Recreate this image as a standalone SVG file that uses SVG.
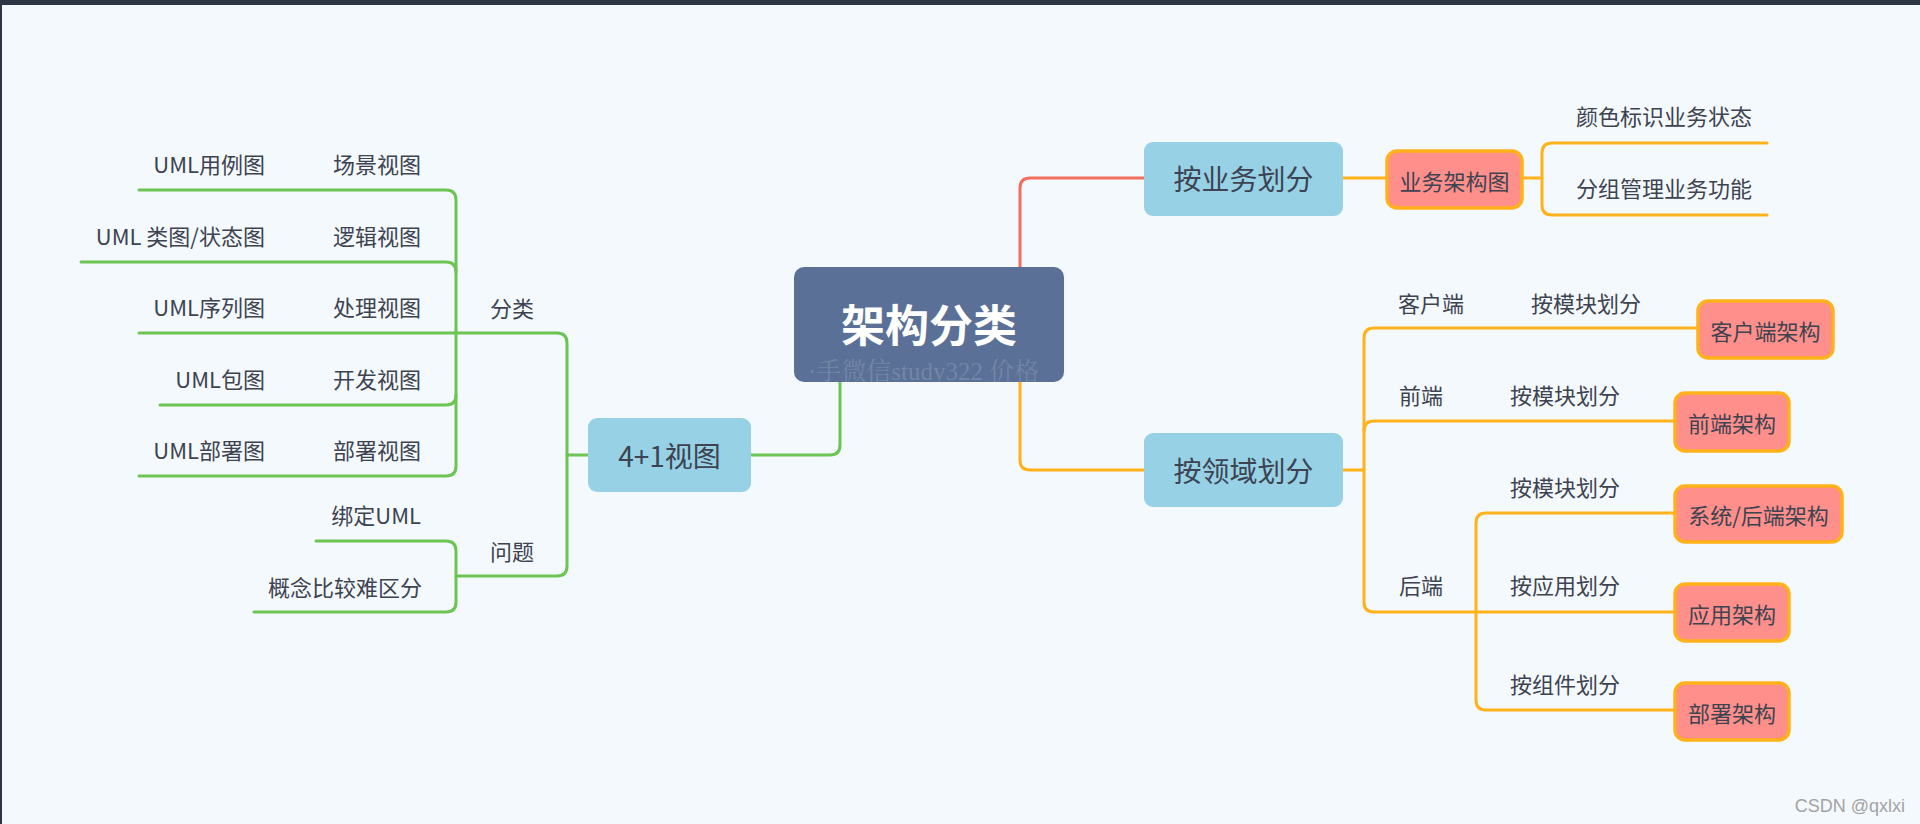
<svg xmlns="http://www.w3.org/2000/svg" width="1920" height="824" viewBox="0 0 1920 824">
<defs>
<style>
.t{font-family:"Noto Sans CJK SC","Noto Sans",sans-serif;font-size:22px;fill:#3d4350;dominant-baseline:central}
.e{text-anchor:end}
.m{text-anchor:middle}
.big{font-size:28px}
.g{fill:none;stroke:#6cc452;stroke-width:3;stroke-linecap:round;stroke-linejoin:round}
.o{fill:none;stroke:#ffb21a;stroke-width:3;stroke-linecap:round;stroke-linejoin:round}
.r{fill:none;stroke:#f26e5e;stroke-width:3;stroke-linecap:round}
.blue{fill:#97d1e6}
.pink{fill:#ff8f8b;stroke:#ffb21a;stroke-width:3.5}
</style>
</defs>
<rect x="0" y="0" width="1920" height="824" fill="#f4f9fd"/>
<rect x="0" y="0" width="1920" height="5" fill="#2c3645"/>
<rect x="0" y="0" width="2" height="824" fill="#2c3645"/>

<g id="connectors">
<path class="g" d="M139,190 H446 Q456,190 456,200 V466 Q456,476 446,476 H139"/>
<path class="g" d="M81,262 H446 Q456,262 456,272"/>
<path class="g" d="M160,405 H446 Q456,405 456,395"/>
<path class="g" d="M139,333 H557 Q567,333 567,343 V566 Q567,576 557,576 H456"/>
<path class="g" d="M316,541 H446 Q456,541 456,551 V602 Q456,612 446,612 H254"/>
<path class="g" d="M567,455 H589"/>
<path class="g" d="M751,455 H830 Q840,455 840,445 V382"/>
<path class="r" d="M1020,267 V188 Q1020,178 1030,178 H1144"/>
<path class="o" d="M1020,382 V460 Q1020,470 1030,470 H1144"/>
<path class="o" d="M1343,178 H1387"/>
<path class="o" d="M1522,178 H1542"/>
<path class="o" d="M1767,143 H1552 Q1542,143 1542,153 V205 Q1542,215 1552,215 H1767"/>
<path class="o" d="M1343,470 H1364"/>
<path class="o" d="M1698,328 H1374 Q1364,328 1364,338 V602 Q1364,612 1374,612 H1675"/>
<path class="o" d="M1364,431 Q1364,421 1374,421 H1675"/>
<path class="o" d="M1675,513 H1486 Q1476,513 1476,523 V700 Q1476,710 1486,710 H1675"/>
</g>

<g id="root">
<rect x="794" y="267" width="270" height="115" rx="10" fill="#5a7097"/>
<text class="t m" x="929" y="323" style="font-size:44px;font-weight:bold;fill:#ffffff">架构分类</text>
</g>
<text x="808" y="380" style="font-family:'Liberation Serif','Noto Serif CJK SC','Noto Sans CJK SC',serif;font-size:25px;fill:#ffffff;fill-opacity:0.16">·手微信study322 价格</text>

<g id="n41">
<rect class="blue" x="588" y="418" width="163" height="74" rx="9"/>
<text class="t m big" x="669.5" y="455">4+1视图</text>
</g>
<g id="fenlei"><text class="t" x="490" y="307">分类</text></g>
<g id="wenti"><text class="t" x="490" y="550">问题</text></g>
<g id="v1"><text class="t e" x="421" y="163">场景视图</text></g>
<g id="u1"><text class="t e" x="265" y="163">UML用例图</text></g>
<g id="v2"><text class="t e" x="421" y="235">逻辑视图</text></g>
<g id="u2"><text class="t e" x="265" y="235">UML 类图/状态图</text></g>
<g id="v3"><text class="t e" x="421" y="306">处理视图</text></g>
<g id="u3"><text class="t e" x="265" y="306">UML序列图</text></g>
<g id="v4"><text class="t e" x="421" y="378">开发视图</text></g>
<g id="u4"><text class="t e" x="265" y="378">UML包图</text></g>
<g id="v5"><text class="t e" x="421" y="449">部署视图</text></g>
<g id="u5"><text class="t e" x="265" y="449">UML部署图</text></g>
<g id="w1"><text class="t e" x="421" y="514">绑定UML</text></g>
<g id="w2"><text class="t e" x="422" y="586">概念比较难区分</text></g>

<g id="biz">
<rect class="blue" x="1144" y="142" width="199" height="74" rx="9"/>
<text class="t m big" x="1243.5" y="178">按业务划分</text>
</g>
<g id="bizarch">
<rect class="pink" x="1387" y="151" width="135" height="57" rx="10"/>
<text class="t m" x="1454.5" y="179.5">业务架构图</text>
</g>
<g id="b1"><text class="t" x="1576" y="115">颜色标识业务状态</text></g>
<g id="b2"><text class="t" x="1576" y="187">分组管理业务功能</text></g>

<g id="domain">
<rect class="blue" x="1144" y="433" width="199" height="74" rx="9"/>
<text class="t m big" x="1243.5" y="470">按领域划分</text>
</g>
<g id="client"><text class="t" x="1398" y="302">客户端</text><text class="t" x="1531" y="302">按模块划分</text></g>
<g id="front"><text class="t" x="1399" y="394">前端</text><text class="t" x="1510" y="394">按模块划分</text></g>
<g id="back"><text class="t" x="1399" y="584">后端</text></g>
<g id="bm1"><text class="t" x="1510" y="486">按模块划分</text></g>
<g id="bm2"><text class="t" x="1510" y="584">按应用划分</text></g>
<g id="bm3"><text class="t" x="1510" y="683">按组件划分</text></g>

<g id="clientarch">
<rect class="pink" x="1698" y="301" width="135" height="57" rx="10"/>
<text class="t m" x="1765.5" y="329.5">客户端架构</text>
</g>
<g id="frontarch">
<rect class="pink" x="1675" y="393" width="114" height="58" rx="10"/>
<text class="t m" x="1732" y="422">前端架构</text>
</g>
<g id="sysarch">
<rect class="pink" x="1675" y="486" width="167" height="56" rx="10"/>
<text class="t m" x="1758.5" y="514">系统/后端架构</text>
</g>
<g id="apparch">
<rect class="pink" x="1675" y="584" width="114" height="57" rx="10"/>
<text class="t m" x="1732" y="612.5">应用架构</text>
</g>
<g id="deparch">
<rect class="pink" x="1675" y="683" width="114" height="57" rx="10"/>
<text class="t m" x="1732" y="711.5">部署架构</text>
</g>

<text x="1905" y="812" text-anchor="end" style="font-family:'Liberation Sans',Arial,sans-serif;font-size:18px;fill:#a3a3a3">CSDN @qxlxi</text>
</svg>
